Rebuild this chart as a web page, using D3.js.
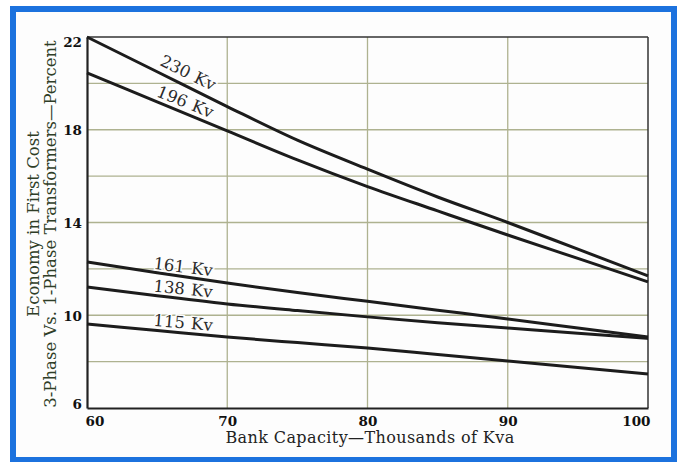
<!DOCTYPE html>
<html>
<head>
<meta charset="utf-8">
<script src="https://cdn.jsdelivr.net/npm/d3@7"></script>
<style>
  body { margin: 0; background: #ffffff; }
  svg { display: block; }
</style>
</head>
<body>
<script>
// bank capacity, thousands of kva
let capacity = [60, 65, 70, 75, 80, 85, 90, 95, 100];

// economy in first cost, percent
let kv230 = [22.0, 20.5, 19.0, 17.55, 16.3, 15.1, 14.0, 12.85, 11.7];
let kv196 = [20.45, 19.2, 17.95, 16.7, 15.55, 14.5, 13.46, 12.45, 11.44];
let kv161 = [12.3, 11.83, 11.39, 10.98, 10.6, 10.22, 9.84, 9.45, 9.06];
let kv138 = [11.22, 10.84, 10.49, 10.2, 9.93, 9.68, 9.45, 9.22, 9.0];
let kv115 = [9.62, 9.34, 9.06, 8.82, 8.59, 8.31, 8.03, 7.75, 7.47];

let seriesNames = ["230 Kv", "196 Kv", "161 Kv", "138 Kv", "115 Kv"];
let seriesValues = [kv230, kv196, kv161, kv138, kv115];

let xTicks = [60, 70, 80, 90, 100];
let yTicks = [6, 10, 14, 18, 22];
let yGrid = [8, 10, 12, 14, 16, 18, 20];

let xTitle = "Bank Capacity\u2014Thousands of Kva";
let yTitle1 = "Economy in First Cost";
let yTitle2 = "3-Phase Vs. 1-Phase Transformers\u2014Percent";

(function() {
  let width = 679;
  let height = 462;
  let serif = "'DejaVu Serif', 'Liberation Serif', serif";

  let svg = d3.select("body").append("svg")
    .attr("width", width)
    .attr("height", height);

  // page + blue frame
  svg.append("rect")
    .attr("width", width).attr("height", height)
    .attr("fill", "#ffffff");
  svg.append("rect")
    .attr("x", 13).attr("y", 9)
    .attr("width", 661).attr("height", 451)
    .attr("fill", "#fdfdfd")
    .attr("stroke", "#1c72de")
    .attr("stroke-width", 6);

  let x = d3.scaleLinear().domain([60, 100]).range([87, 648]);
  let y = d3.scaleLinear().domain([6, 22]).range([408, 37]);

  // grid
  let gridColor = "#aeb290";
  svg.append("g").selectAll("line")
    .data(yGrid)
    .enter().append("line")
      .attr("x1", x(60)).attr("x2", x(100))
      .attr("y1", (d) => y(d)).attr("y2", (d) => y(d))
      .attr("stroke", gridColor)
      .attr("stroke-width", 1.3);
  svg.append("g").selectAll("line")
    .data([70, 80, 90])
    .enter().append("line")
      .attr("x1", (d) => x(d)).attr("x2", (d) => x(d))
      .attr("y1", y(22)).attr("y2", y(6))
      .attr("stroke", gridColor)
      .attr("stroke-width", 1.3);

  // frame of the plot
  svg.append("line")
    .attr("x1", x(60)).attr("x2", x(100))
    .attr("y1", y(22)).attr("y2", y(22))
    .attr("stroke", "#333").attr("stroke-width", 1.5);
  svg.append("line")
    .attr("x1", x(100)).attr("x2", x(100))
    .attr("y1", y(22)).attr("y2", y(6))
    .attr("stroke", "#333").attr("stroke-width", 1.5);

  // axes (d3 axes, ticks hidden, labels restyled)
  let xAxis = d3.axisBottom(x).tickValues(xTicks).tickSize(0).tickPadding(8);
  let gx = svg.append("g")
    .attr("transform", "translate(0," + y(6) + ")")
    .call(xAxis);
  gx.select(".domain").attr("stroke", "#222").attr("stroke-width", 2.2);
  gx.selectAll("text")
    .attr("font-family", serif)
    .attr("font-weight", "bold")
    .attr("font-size", 13.5)
    .attr("fill", "#111")
    .attr("text-anchor", (d) => d == 60 ? "start" : (d == 100 ? "end" : "middle"))
    .attr("dx", (d) => d == 60 ? -2 : (d == 100 ? 2 : 0));

  let yAxis = d3.axisLeft(y).tickValues(yTicks).tickSize(0).tickPadding(5);
  let gy = svg.append("g")
    .attr("transform", "translate(" + x(60) + ",0)")
    .call(yAxis);
  gy.select(".domain").attr("stroke", "#222").attr("stroke-width", 2.2);
  gy.selectAll("text")
    .attr("font-family", serif)
    .attr("font-weight", "bold")
    .attr("font-size", 13.5)
    .attr("fill", "#111")
    .attr("dy", (d) => d == 22 ? "0.72em" : (d == 6 ? "0em" : "0.36em"));

  // curves
  let line = d3.line()
    .x((d, i) => x(capacity[i]))
    .y((d) => y(d))
    .curve(d3.curveMonotoneX);

  svg.append("g").selectAll("path")
    .data(seriesValues)
    .enter().append("path")
      .attr("d", line)
      .attr("fill", "none")
      .attr("stroke", "#1c1c1c")
      .attr("stroke-width", 3);

  // curve labels, placed just above each curve near 67 kva
  let labelX = [67.2, 67.0, 66.85, 66.85, 66.85];
  let labelY = [20.45, 19.2, 12.08, 11.13, 9.67];
  let labelAngle = [26, 22, 7, 6, 5];
  svg.append("g").selectAll("text")
    .data(seriesNames)
    .enter().append("text")
      .attr("transform", (d, i) => "translate(" + x(labelX[i]) + "," + y(labelY[i]) + ") rotate(" + labelAngle[i] + ")")
      .attr("text-anchor", "middle")
      .attr("dominant-baseline", "central")
      .attr("font-family", serif)
      .attr("font-size", 16.5)
      .attr("word-spacing", 1)
      .attr("fill", "#2b2b2b")
      .attr("stroke", "#fdfdfd")
      .attr("stroke-width", 3)
      .attr("paint-order", "stroke")
      .text((d) => d);

  // axis titles
  svg.append("text")
    .attr("x", 370).attr("y", 443)
    .attr("text-anchor", "middle")
    .attr("font-family", serif)
    .attr("font-size", 16)
    .attr("letter-spacing", 0.4)
    .attr("fill", "#222")
    .text(xTitle);

  svg.append("text")
    .attr("transform", "translate(39,224) rotate(-90)")
    .attr("text-anchor", "middle")
    .attr("font-family", serif)
    .attr("font-size", 16.5)
    .attr("fill", "#2f3d27")
    .text(yTitle1);
  svg.append("text")
    .attr("transform", "translate(56,224) rotate(-90)")
    .attr("text-anchor", "middle")
    .attr("font-family", serif)
    .attr("font-size", 16.5)
    .attr("fill", "#2f3d27")
    .text(yTitle2);
})();
</script>
</body>
</html>
